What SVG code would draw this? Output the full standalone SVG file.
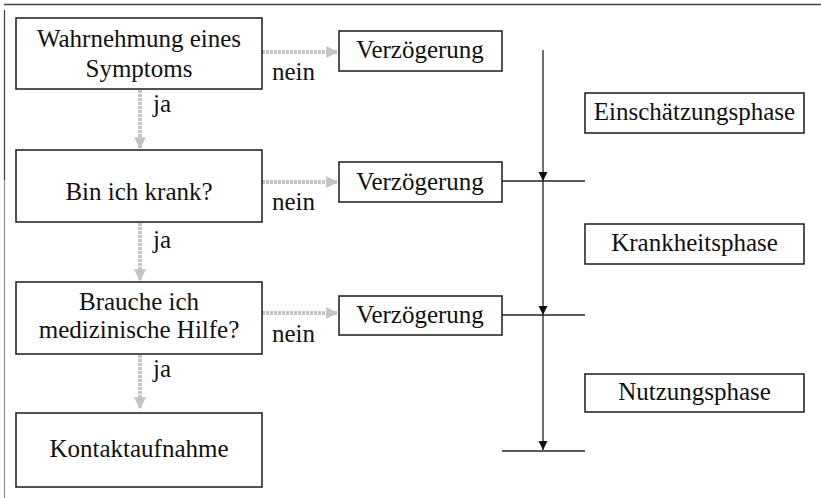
<svg xmlns="http://www.w3.org/2000/svg" width="821" height="498" viewBox="0 0 821 498">
<defs>
<style>
.box{fill:#fff;stroke:#1a1a1a;stroke-width:1.5}
.t{font-family:"Liberation Serif",serif;font-size:25px;fill:#111}
.m{text-anchor:middle}
.g{stroke:#c4c4c4;stroke-width:4;fill:none;stroke-dasharray:3 1}
.k{stroke:#222;stroke-width:1.3;fill:none}
</style>
<marker id="ga" viewBox="0 0 10 10" refX="9" refY="5" markerWidth="3" markerHeight="3" orient="auto" markerUnits="strokeWidth">
<path d="M0,0 L10,5 L0,10 z" fill="#c4c4c4"/>
</marker>
<marker id="ka" viewBox="0 0 10 10" refX="10" refY="5" markerWidth="9" markerHeight="10" orient="auto" markerUnits="userSpaceOnUse">
<path d="M0,0 L10,5 L0,10 z" fill="#111"/>
</marker>
</defs>
<rect width="821" height="498" fill="#fff"/>
<g id="frame">
<line x1="4" y1="4.5" x2="821" y2="4.5" stroke="#444" stroke-width="1.3"/>
<line x1="4.5" y1="10" x2="4.5" y2="180" stroke="#444" stroke-width="1.3"/>
<line x1="4.5" y1="180" x2="4.5" y2="498" stroke="#999" stroke-width="1.3"/>
</g>
<g id="connectors">
<line class="g" x1="262" y1="52" x2="337" y2="52" marker-end="url(#ga)"/>
<line class="g" x1="262" y1="182" x2="337" y2="182" marker-end="url(#ga)"/>
<line class="g" x1="262" y1="313" x2="337" y2="313" marker-end="url(#ga)"/>
<line class="g" x1="140" y1="90" x2="140" y2="148" marker-end="url(#ga)"/>
<line class="g" x1="140" y1="223" x2="140" y2="280" marker-end="url(#ga)"/>
<line class="g" x1="140" y1="355" x2="140" y2="408" marker-end="url(#ga)"/>
<line class="k" x1="543" y1="50" x2="543" y2="181" marker-end="url(#ka)"/>
<line class="k" x1="543" y1="181" x2="543" y2="315" marker-end="url(#ka)"/>
<line class="k" x1="543" y1="315" x2="543" y2="450" marker-end="url(#ka)"/>
<line class="k" x1="502" y1="181" x2="585" y2="181"/>
<line class="k" x1="502" y1="315" x2="585" y2="315" stroke="#555"/>
<line class="k" x1="502" y1="451" x2="585" y2="451"/>
<text class="t" x="272" y="80">nein</text>
<text class="t" x="272" y="210">nein</text>
<text class="t" x="272" y="342">nein</text>
<text class="t" x="153" y="112">ja</text>
<text class="t" x="153" y="248">ja</text>
<text class="t" x="153" y="377">ja</text>
</g>
<g id="n1">
<rect class="box" x="16" y="18" width="246" height="71"/>
<text class="t m" x="139" y="47">Wahrnehmung eines</text>
<text class="t m" x="139" y="77">Symptoms</text>
</g>
<g id="n2">
<rect class="box" x="16" y="150" width="246" height="72"/>
<text class="t m" x="139" y="200">Bin ich krank?</text>
</g>
<g id="n3">
<rect class="box" x="16" y="282" width="246" height="72"/>
<text class="t m" x="139" y="310">Brauche ich</text>
<text class="t m" x="139" y="338">medizinische Hilfe?</text>
</g>
<g id="n4">
<rect class="box" x="16" y="413" width="246" height="74"/>
<text class="t m" x="139" y="457">Kontaktaufnahme</text>
</g>
<g id="d1">
<rect class="box" x="339" y="31" width="163" height="40"/>
<text class="t m" x="420" y="58">Verzögerung</text>
</g>
<g id="d2">
<rect class="box" x="339" y="162" width="163" height="40"/>
<text class="t m" x="420" y="190">Verzögerung</text>
</g>
<g id="d3">
<rect class="box" x="339" y="296" width="163" height="39"/>
<text class="t m" x="420" y="323">Verzögerung</text>
</g>
<g id="p1">
<rect class="box" x="585" y="93" width="219" height="40"/>
<text class="t m" x="694.5" y="120">Einschätzungsphase</text>
</g>
<g id="p2">
<rect class="box" x="585" y="224" width="219" height="40"/>
<text class="t m" x="694.5" y="251">Krankheitsphase</text>
</g>
<g id="p3">
<rect class="box" x="585" y="374" width="219" height="38"/>
<text class="t m" x="694.5" y="400">Nutzungsphase</text>
</g>
</svg>
